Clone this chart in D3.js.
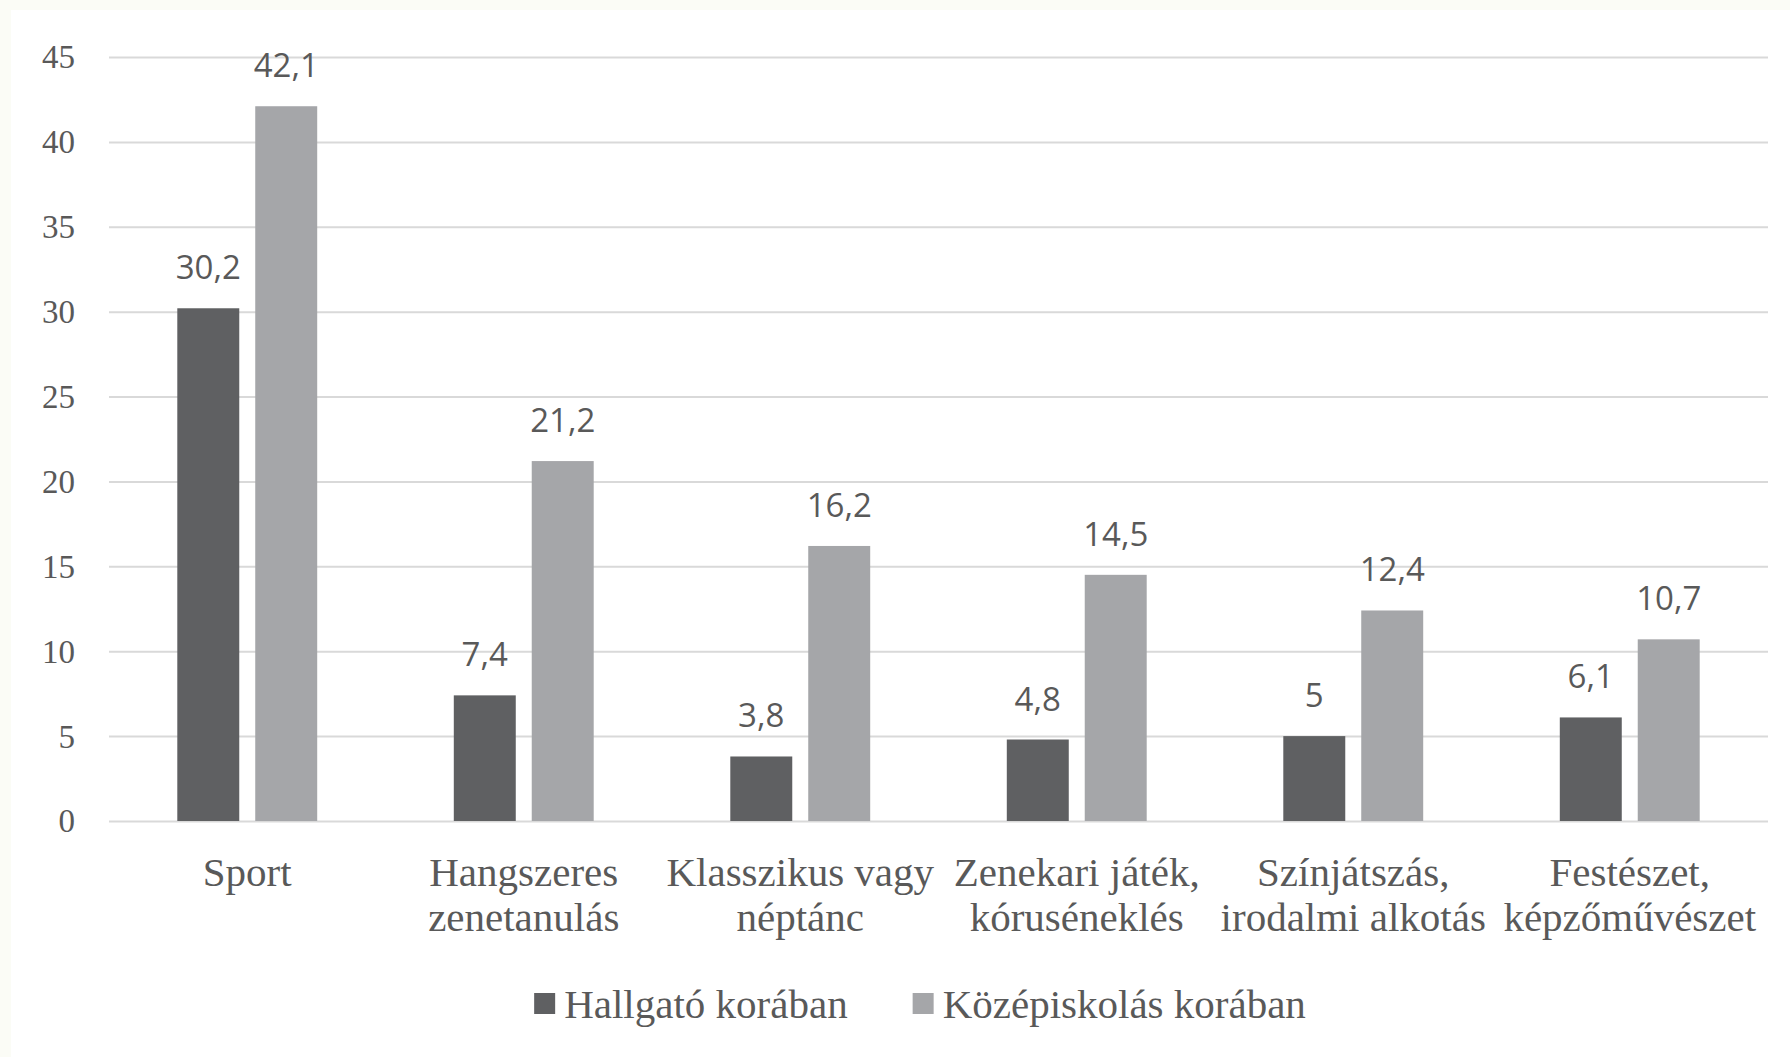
<!DOCTYPE html>
<html>
<head>
<meta charset="utf-8">
<script src="https://cdn.jsdelivr.net/npm/d3@7"></script>
<style>
  html, body { margin: 0; padding: 0; background: #fbfcf6; }
  svg { display: block; }
</style>
</head>
<body>
<svg id="chart" width="1790" height="1057"></svg>
<script>
const categories = [
  ["Sport"],
  ["Hangszeres", "zenetanulás"],
  ["Klasszikus vagy", "néptánc"],
  ["Zenekari játék,", "kóruséneklés"],
  ["Színjátszás,", "irodalmi alkotás"],
  ["Festészet,", "képzőművészet"]
];
const seriesNames = ["Hallgató korában", "Középiskolás korában"];
const hallgato = [30.2, 7.4, 3.8, 4.8, 5, 6.1];
const kozepiskolas = [42.1, 21.2, 16.2, 14.5, 12.4, 10.7];
const yTicks = [0, 5, 10, 15, 20, 25, 30, 35, 40, 45];
const colors = ["#5f6062", "#a5a6a9"];

(function () {
const svg = d3.select("#chart");
svg.append("rect").attr("x", 11).attr("y", 10).attr("width", 1790 - 11).attr("height", 1057 - 10).attr("fill", "#ffffff");

const pLeft = 109, pRight = 1768, pTop = 57, pBottom = 821;
const catIdx = categories.map((d, i) => i);
const x0 = d3.scaleBand().domain(catIdx).range([pLeft, pRight]).paddingInner(0.494).paddingOuter(0.247);
const x1 = d3.scaleBand().domain([0, 1]).range([0, x0.bandwidth()]).paddingInner(0.205);
const y = d3.scaleLinear().domain([0, 45]).range([pBottom, pTop]);

const textColor = "#595959";
const serif = "'Liberation Serif', 'Times New Roman', serif";
const sans = "'Open Sans', 'Liberation Sans', sans-serif";

// gridlines + y ticks
const yAxis = d3.axisLeft(y).tickValues(yTicks).tickSize(-(pRight - pLeft)).tickFormat(d => d);
const gy = svg.append("g").attr("transform", `translate(${pLeft},0)`).call(yAxis);
gy.select(".domain").remove();
gy.selectAll(".tick line").attr("stroke", "#d9d9d9").attr("stroke-width", 2);
gy.selectAll(".tick text")
  .attr("x", 75 - pLeft)
  .attr("dy", "0.33em")
  .attr("text-anchor", "end")
  .style("font-family", serif)
  .style("font-size", "33px")
  .attr("fill", textColor);

// bars
const data = categories.map((c, i) => ({ i, values: [hallgato[i], kozepiskolas[i]] }));
const groups = svg.append("g").selectAll("g").data(data).join("g")
  .attr("transform", d => `translate(${x0(d.i)},0)`);

groups.selectAll("rect").data(d => d.values.map((v, s) => ({ v, s }))).join("rect")
  .attr("x", d => x1(d.s))
  .attr("y", d => y(d.v))
  .attr("width", x1.bandwidth())
  .attr("height", d => y(0) - y(d.v))
  .attr("fill", d => colors[d.s]);

groups.selectAll("text.val").data(d => d.values.map((v, s) => ({ v, s }))).join("text")
  .attr("class", "val")
  .attr("x", d => x1(d.s) + x1.bandwidth() / 2)
  .attr("y", d => y(d.v) - 29)
  .attr("text-anchor", "middle")
  .style("font-family", sans)
  .style("font-size", "33px")
  .attr("fill", textColor)
  .text(d => String(d.v).replace(".", ","));

// category labels
const xAxisG = svg.append("g");
categories.forEach((lines, i) => {
  const cx = x0(i) + x0.bandwidth() / 2;
  const t = xAxisG.append("text")
    .attr("text-anchor", "middle")
    .style("font-family", serif)
    .style("font-size", "41px")
    .attr("fill", textColor);
  lines.forEach((ln, k) => {
    t.append("tspan").attr("x", cx).attr("y", 886 + k * 45).text(ln);
  });
});

// legend
const legend = svg.append("g");
let lx = 0;
seriesNames.forEach((name, s) => {
  const g = legend.append("g");
  g.append("rect").attr("x", lx).attr("y", 993).attr("width", 21).attr("height", 21).attr("fill", colors[s]);
  const t = g.append("text").attr("x", lx + 30).attr("y", 1018)
    .style("font-family", serif).style("font-size", "41px").attr("fill", textColor).text(name);
  const w = t.node().getComputedTextLength();
  lx = lx + 30 + w + 65;
});
const totalW = lx - 65;
legend.attr("transform", `translate(${920 - totalW / 2},0)`);
})();
</script>
</body>
</html>
